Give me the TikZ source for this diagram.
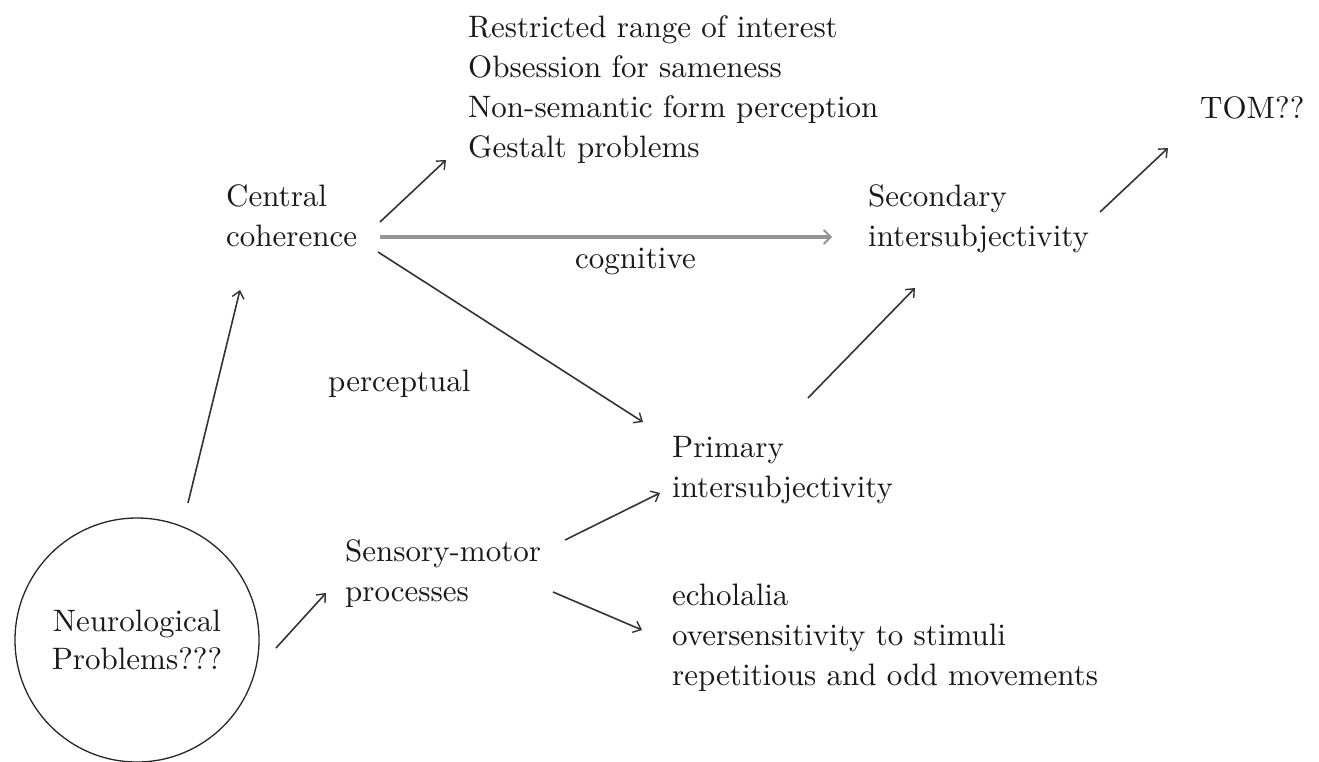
\documentclass[tikz,border=0pt]{standalone}
\usepackage{fontspec}
\setmainfont{lmroman10-regular.otf}
\usetikzlibrary{arrows.meta,calc}
\begin{document}
\begin{tikzpicture}[x=1pt,y=-1pt,
  txt/.style={inner sep=0pt, anchor=north west, align=left, font=\fontsize{31}{40}\selectfont, text=black!90},
  arr/.style={draw=black!80, line width=1.6pt, -{Straight Barb[length=7pt,width=12pt,line width=1.4pt]}},
  arrgray/.style={draw=black!42, line width=3.6pt, -{Straight Barb[length=7pt,width=14pt,line width=1.8pt]}},
  ]
\useasboundingbox (0,0) rectangle (1319,761);
\node[txt] (lst) at (468,15) {Restricted range of interest\\Obsession for sameness\\Non-semantic form perception\\Gestalt problems};
\node[txt] (cc) at (226,184) {Central\\coherence};
\node[txt] (sec) at (868,184) {Secondary\\intersubjectivity};
\node[txt] (tom) at (1200,96) {TOM??};
\node[txt, anchor=base west] (cog) at (575,268) {cognitive};
\node[txt, anchor=base west] (perc) at (328,391) {perceptual};
\node[txt] (prim) at (672,436) {Primary\\intersubjectivity};
\node[txt] (sm) at (345,539) {Sensory-motor\\processes};
\node[txt] (ech) at (672,584) {echolalia\\oversensitivity to stimuli\\repetitious and odd movements};
\node[circle, draw=black!85, line width=1.3pt, minimum size=244pt, inner sep=0pt, align=center,
  font=\fontsize{31}{38}\selectfont, text=black!90] (neuro) at (137,640) {Neurological\\Problems???};
% connectors
\draw[arr] ($(neuro.center)+(51,-137)$) -- ($(cc.north west)+(14,106)$);
\draw[arr] ($(neuro.center)+(139,8)$) -- ($(sm.north west)+(-19,54)$);
\draw[arr] ($(cc.north west)+(154,38)$) -- ($(lst.north west)+(-22,145)$);
\draw[arrgray] ($(cc.north west)+(154,53)$) -- ($(sec.north west)+(-36,53)$);
\draw[arr] ($(cc.north west)+(152,68)$) -- ($(prim.north west)+(-29,-14)$);
\draw[arr] ($(prim.north west)+(136,-38)$) -- ($(sec.north west)+(47,104)$);
\draw[arr] ($(sec.north west)+(232,28)$) -- ($(tom.north west)+(-32,52)$);
\draw[arr] ($(sm.north west)+(220,1)$) -- ($(prim.north west)+(-12,57)$);
\draw[arr] ($(sm.north west)+(208,53)$) -- ($(ech.north west)+(-30,46)$);
\end{tikzpicture}
\end{document}
